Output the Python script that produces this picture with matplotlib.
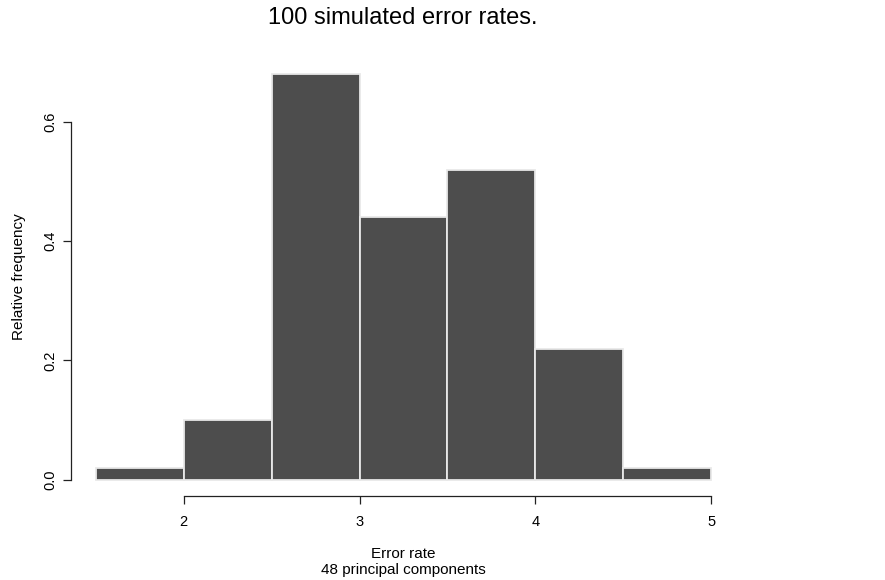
import matplotlib.pyplot as plt
import numpy as np

plt.rcParams['font.family'] = ['Liberation Sans', 'DejaVu Sans']

# histogram bins (error rate) and relative frequencies
bin_edges = [1.5, 2.0, 2.5, 3.0, 3.5, 4.0, 4.5, 5.0]
rel_freq = [0.02, 0.10, 0.68, 0.44, 0.52, 0.22, 0.02]
x_ticks = [2, 3, 4, 5]
y_ticks = [0.0, 0.2, 0.4, 0.6]
y_ticklabels = ["0.0", "0.2", "0.4", "0.6"]

W, H = 885, 580


def main():
    fig = plt.figure(figsize=(W / 100, H / 100), dpi=100)
    ax = fig.add_axes([71 / W, 84 / H, 665 / W, 438 / H])

    edges = np.array(bin_edges)
    ax.bar(edges[:-1], rel_freq, width=np.diff(edges), align='edge',
           color='#4d4d4d', edgecolor='#e8e8e8', linewidth=1.3)

    # R-like axis extents (4% padding)
    xr = edges[-1] - edges[0]
    ax.set_xlim(edges[0] - 0.04 * xr, edges[-1] + 0.04 * xr)
    yr = max(rel_freq)
    ax.set_ylim(-0.04 * yr, yr + 0.04 * yr)

    for s in ['top', 'right']:
        ax.spines[s].set_visible(False)
    ax.spines['bottom'].set_bounds(x_ticks[0], x_ticks[-1])
    ax.spines['left'].set_bounds(y_ticks[0], y_ticks[-1])
    for s in ['bottom', 'left']:
        ax.spines[s].set_linewidth(0.9)
        ax.spines[s].set_color('#222222')

    ax.set_xticks(x_ticks)
    ax.set_xticklabels([str(t) for t in x_ticks])
    ax.set_yticks(y_ticks)
    ax.set_yticklabels(y_ticklabels, rotation=90, va='center')
    ax.tick_params(axis='both', length=6, width=0.9, color='#222222',
                   labelsize=10.5)
    ax.tick_params(axis='x', pad=8)
    ax.tick_params(axis='y', pad=4)

    fig.text(403 / W, 1 - 18 / H, "100 simulated error rates.",
             fontsize=17, ha='center', va='center')
    fig.text(403 / W, 1 - 562 / H, "Error rate\n48 principal components",
             fontsize=11, ha='center', va='center', linespacing=1.1)
    fig.text(19 / W, 1 - 277 / H, "Relative frequency", fontsize=11,
             rotation=90, ha='center', va='center')

    plt.savefig("out.png", dpi=100)
    plt.close()


if __name__ == "__main__":
    main()
